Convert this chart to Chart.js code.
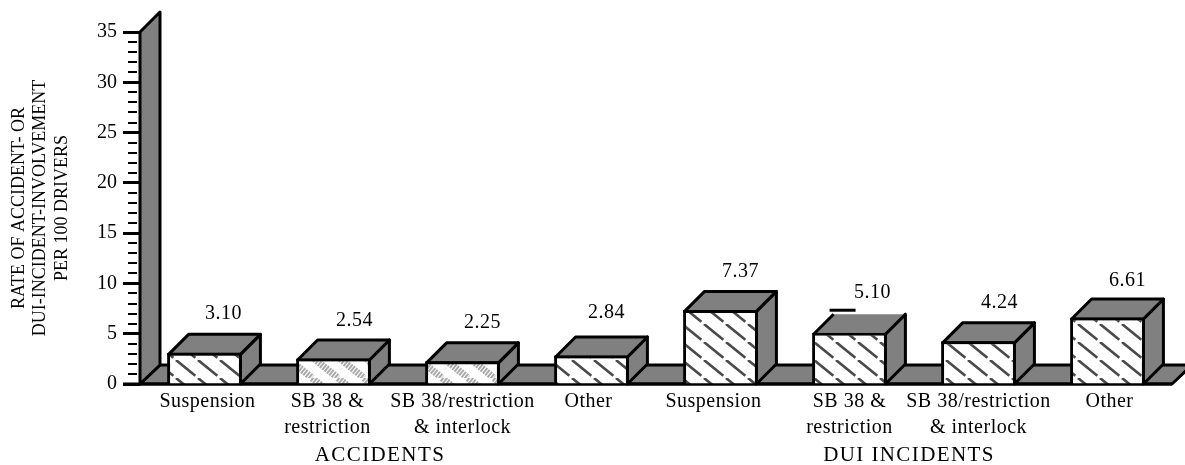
<!DOCTYPE html>
<html>
<head>
<meta charset="utf-8">
<script src="https://cdn.jsdelivr.net/npm/chart.js@4"></script>
<style>
  html, body { margin: 0; padding: 0; background: #fff; }
  canvas { display: block; }
</style>
</head>
<body>
<canvas id="rateChart" width="1185" height="465"></canvas>
<script>
(() => {
  'use strict'

  const categories = [
    'Suspension',
    ['SB 38 &', 'restriction'],
    ['SB 38/restriction', '& interlock'],
    'Other',
    'Suspension',
    ['SB 38 &', 'restriction'],
    ['SB 38/restriction', '& interlock'],
    'Other'
  ];
  const rates = [3.10, 2.54, 2.25, 2.84, 7.37, 5.10, 4.24, 6.61];
  const rateLabels = ['3.10', '2.54', '2.25', '2.84', '7.37', '5.10', '4.24', '6.61'];
  const groups = ['ACCIDENTS', 'DUI INCIDENTS'];
  const axisTitle = ['RATE OF ACCIDENT- OR', 'DUI-INCIDENT-INVOLVEMENT', 'PER 100 DRIVERS'];

  // hand placed nudges, the original labels do not sit on the bar centres
  const labelShift = [3, -6, 0, -3, -7, 0, 0, 2];
  const valueShift = [19, 21, 20, 15, 20, 23, 21, 20];
  const valueLift = [19, 18, 19, 23, 18, 20, 19, 17];
  const groupX = [380, 909];

  const SERIF = '"Liberation Serif", serif';
  const GREY = '#808080';
  const DEPTH = 20;

  function stripes(lineColor, lineWidth, w, h, dash) {
    const c = document.createElement('canvas');
    c.width = w; c.height = h;
    const g = c.getContext('2d');
    g.fillStyle = '#fff';
    g.fillRect(0, 0, w, h);
    g.strokeStyle = lineColor;
    g.lineWidth = lineWidth;
    g.setLineDash(dash);
    [-w, 0, w].forEach(o => {
      g.beginPath();
      g.moveTo(o, 0);
      g.lineTo(o + w, h);
      g.stroke();
    });
    return g.createPattern(c, 'repeat');
  }

  const wide = stripes('#4a4a4a', 2.6, 22, 18, [25, 3.4]);
  const fine = stripes('#aaa', 7, 26, 21, [2, 1]);
  const fills = [wide, fine, fine, wide, wide, wide, wide, wide];

  function poly(ctx, pts, fill) {
    ctx.beginPath();
    pts.forEach((p, i) => i ? ctx.lineTo(p[0], p[1]) : ctx.moveTo(p[0], p[1]));
    ctx.closePath();
    if (fill) { ctx.fillStyle = fill; ctx.fill(); }
    ctx.stroke();
  }

  const box3d = {
    id: 'box3d',
    beforeDatasetsDraw(chart) {
      const { ctx, chartArea: a, scales: { y } } = chart;
      const base = y.getPixelForValue(0);
      const top = y.getPixelForValue(35);
      ctx.save();
      ctx.strokeStyle = '#000';
      ctx.lineWidth = 3;
      ctx.lineJoin = 'round';
      // floor
      poly(ctx, [[a.left, base], [a.left + DEPTH, base - DEPTH + 1], [a.right + DEPTH, base - DEPTH + 1], [a.right, base]], GREY);
      // wall
      poly(ctx, [[a.left, base], [a.left, top], [a.left + DEPTH, top - DEPTH], [a.left + DEPTH, base - DEPTH + 1]], GREY);
      // minor ticks
      ctx.lineWidth = 2;
      for (let v = 1; v < 35; v++) {
        if (v % 5 === 0) continue;
        const py = Math.round(y.getPixelForValue(v));
        ctx.beginPath();
        ctx.moveTo(a.left - 12, py);
        ctx.lineTo(a.left - 3, py);
        ctx.stroke();
      }
      // baseline
      ctx.lineWidth = 3;
      ctx.beginPath();
      ctx.moveTo(a.left - 17, base);
      ctx.lineTo(a.right, base);
      ctx.stroke();
      // bar sides and tops, pulled in by half a line so they meet the bar border
      chart.getDatasetMeta(0).data.forEach((bar, i) => {
        const l = bar.x - bar.width / 2 + 1.5;
        const r = bar.x + bar.width / 2 - 1.5;
        const t = bar.y + 1.5;
        poly(ctx, [[r, base], [r, t], [r + DEPTH, t - DEPTH], [r + DEPTH, base - DEPTH]], GREY);
        if (i === 5) {
          // the back edge of this top is missing in the original, only a short dash floats above it
          ctx.fillStyle = GREY;
          ctx.beginPath();
          ctx.moveTo(l, t); ctx.lineTo(l + DEPTH, t - DEPTH); ctx.lineTo(r + DEPTH, t - DEPTH); ctx.lineTo(r, t);
          ctx.closePath();
          ctx.fill();
          ctx.beginPath();
          ctx.moveTo(l, t); ctx.lineTo(l + DEPTH, t - DEPTH);
          ctx.moveTo(r + DEPTH, t - DEPTH); ctx.lineTo(r, t);
          ctx.stroke();
          ctx.beginPath();
          ctx.moveTo(l + 16, t - 24); ctx.lineTo(l + 42, t - 24);
          ctx.stroke();
        } else {
          poly(ctx, [[l, t], [l + DEPTH, t - DEPTH], [r + DEPTH, t - DEPTH], [r, t]], GREY);
        }
      });
      ctx.restore();
    },
    afterDatasetsDraw(chart) {
      const { ctx, scales: { x } } = chart;
      const meta = chart.getDatasetMeta(0);
      ctx.save();
      ctx.fillStyle = '#000';
      ctx.textAlign = 'center';
      ctx.textBaseline = 'middle';
      ctx.font = '20px ' + SERIF;
      ctx.letterSpacing = '0.5px';
      // values
      meta.data.forEach((bar, i) => {
        ctx.fillText(rateLabels[i], bar.x + valueShift[i], bar.y - DEPTH - valueLift[i]);
      });
      // category labels
      categories.forEach((label, i) => {
        const px = x.getPixelForValue(i) + labelShift[i];
        [].concat(label).forEach((line, n) => {
          ctx.fillText(line, px, 402 + n * 26);
        });
      });
      ctx.font = '21px ' + SERIF;
      ctx.letterSpacing = '1.4px';
      groups.forEach((g, i) => ctx.fillText(g, groupX[i], 455));
      ctx.restore();
    }
  };

  new Chart(document.getElementById('rateChart'), {
    type: 'bar',
    data: {
      labels: categories,
      datasets: [{
        data: rates,
        backgroundColor: fills,
        borderColor: '#000',
        borderWidth: 3,
        barPercentage: 0.58,
        categoryPercentage: 1
      }]
    },
    options: {
      responsive: false,
      animation: false,
      layout: { padding: { top: 32, right: 13, left: 0, bottom: 0 } },
      plugins: { legend: { display: false }, tooltip: { enabled: false } },
      scales: {
        x: {
          grid: { display: false },
          border: { display: false },
          ticks: { display: false },
          afterFit: s => { s.height = 81; }
        },
        y: {
          min: 0,
          max: 35,
          afterFit: s => { s.width = 140; },
          border: { display: false },
          grid: { drawOnChartArea: false, tickLength: 17, tickColor: '#000', tickWidth: 3 },
          ticks: {
            stepSize: 5,
            padding: 6,
            color: '#000',
            font: { family: SERIF, size: 20 }
          },
          title: {
            display: true,
            text: axisTitle,
            color: '#000',
            font: { family: SERIF, size: 18, lineHeight: 1.2 },
            padding: { top: 8, bottom: 0 }
          }
        }
      }
    },
    plugins: [box3d]
  });
})();
</script>
</body>
</html>
